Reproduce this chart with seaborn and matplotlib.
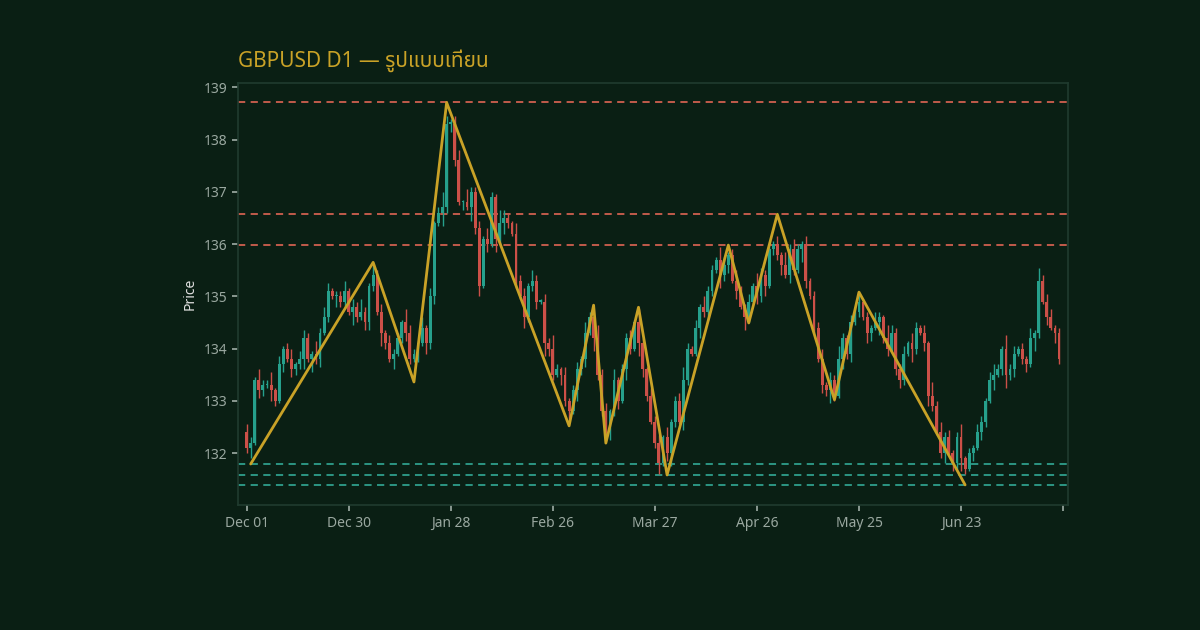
import numpy as np
import pandas as pd
import matplotlib
matplotlib.use("Agg")
import matplotlib.pyplot as plt
import seaborn as sns

# ราคาปิดรายวัน (อ่านจากภาพ)
closes = [
    132.1, 132.2, 133.4, 133.2, 133.3, 133.3, 133.2, 133.0, 133.7, 134.0,
    133.8, 133.6, 133.7, 133.8, 134.2, 133.8, 133.9, 133.8, 134.3, 134.6,
    135.1, 135.0, 135.0, 134.9, 135.1, 134.7, 134.8, 134.6, 134.7, 134.5,
    135.2, 135.4, 134.7, 134.3, 134.1, 133.8, 133.9, 134.2, 134.5, 134.3,
    133.8, 133.9, 134.1, 134.4, 134.1, 135.0, 136.4, 136.6, 136.7, 138.3,
    138.3, 137.6, 136.8, 136.8, 136.7, 137.0, 136.3, 135.2, 136.1, 136.0,
    136.9, 136.1, 136.4, 136.5, 136.4, 136.2, 135.3, 135.0, 134.6, 135.2,
    135.3, 134.9, 134.9, 134.1, 134.0, 133.5, 133.6, 133.5, 133.0, 132.8,
    133.2, 133.6, 133.8, 134.3, 134.6, 134.2, 133.5, 132.8, 132.4, 132.8,
    133.4, 133.0, 133.6, 134.2, 134.0, 134.5, 134.1, 133.6, 133.1, 132.6,
    132.2, 131.8, 132.3, 132.0, 132.6, 133.0, 132.6, 133.4, 134.0, 133.9,
    134.4, 134.8, 134.7, 135.1, 135.5, 135.7, 135.4, 135.6, 135.8, 135.3,
    135.1, 134.8, 134.6, 134.9, 135.2, 135.0, 135.4, 135.2, 135.9, 136.0,
    135.8, 135.6, 135.4, 135.9, 135.5, 135.9, 136.0, 135.3, 135.0, 134.4,
    133.8, 133.3, 133.2, 133.4, 133.1, 133.8, 134.2, 133.9, 134.5, 134.7,
    134.9, 134.6, 134.3, 134.4, 134.5, 134.6, 134.2, 134.0, 134.3, 133.6,
    133.4, 133.9, 134.1, 134.0, 134.4, 134.3, 134.1, 133.1, 132.9, 132.4,
    132.0, 132.3, 132.0, 131.8, 132.3, 131.9, 131.7, 132.0, 132.1, 132.4,
    132.6, 133.0, 133.4, 133.5, 133.6, 134.0, 133.5, 133.6, 133.9, 134.0,
    133.8, 133.7, 134.2, 134.3, 135.3, 134.9, 134.6, 134.4, 134.3, 133.8,
]
first_open = 132.4
# ไส้เทียน (หน่วย 0.05)
wick_up = ("3214225131" "2413321524" "3122413252" "1423132215" "3214131263"
           "2341522314" "2153214231" "4213252131" "2314215231" "4122315213"
           "2314123521" "3142215312" "4213153221" "3152421312" "2413252132"
           "3121421532" "2314213152" "4231251213" "2134215231" "2141523312")
wick_dn = ("2413214213" "1322415231" "2142315213" "3215214123" "2131423152"
           "3213152413" "1524213142" "2315321423" "1423152213" "2314215321"
           "2413521321" "1423215231" "3152132412" "2413215312" "1325214231"
           "2143152312" "3215213421" "2413252131" "3214125231" "2315213142")

# จุดกลับตัว (zigzag)
piv_idx = [1, 31, 41, 49, 79, 85, 88, 96, 103, 118, 123, 130, 144, 150, 176]
piv_px = [131.79, 135.65, 133.36, 138.71, 132.52, 134.83, 132.19, 134.79,
          131.58, 135.98, 134.49, 136.57, 133.02, 135.08, 131.39]
res_levels = [138.71, 136.57, 135.98]
sup_levels = [131.79, 131.58, 131.39]

tick_pos = [0, 25, 50, 75, 100, 125, 150, 175, 200]
tick_lab = ["Dec 01", "Dec 30", "Jan 28", "Feb 26", "Mar 27", "Apr 26", "May 25", "Jun 23", ""]

bg = "#0a1f14"
up_c = "#26a08c"
dn_c = "#cc5048"
gold = "#c9a227"

sns.set_theme(style="dark")
plt.rcParams['font.family'] = ['Noto Sans Thai', 'Loma', 'Garuda', 'Kinnari', 'DejaVu Sans']

opens = [first_open] + closes[:-1]
df = pd.DataFrame({"i": range(len(closes)), "open": opens, "close": closes})
df["high"] = df[["open", "close"]].max(axis=1) + np.array([int(c) for c in wick_up]) * 0.05
df["low"] = df[["open", "close"]].min(axis=1) - np.array([int(c) for c in wick_dn]) * 0.05
df["up"] = df["close"] >= df["open"]

fig = plt.figure(figsize=(12, 6.3), dpi=100, facecolor=bg)
ax = fig.add_axes([0.198, 0.198, 0.692, 0.67])
ax.set_facecolor(bg)

for lv in res_levels:
    ax.axhline(lv, color="#d0604f", ls=(0, (4, 3)), lw=1.3, zorder=1)
for lv in sup_levels:
    ax.axhline(lv, color="#2f9f8c", ls=(0, (4, 3)), lw=1.3, zorder=1)

cols = np.where(df["up"], up_c, dn_c)
ax.vlines(df["i"], df["low"], df["high"], colors=cols, lw=1, zorder=2)
body_h = (df["close"] - df["open"]).abs().clip(lower=0.03)
body_b = df[["open", "close"]].min(axis=1)
ax.bar(df["i"], body_h, bottom=body_b, width=0.7, color=cols, zorder=3, linewidth=0)

zz = pd.DataFrame({"i": piv_idx, "p": piv_px})
sns.lineplot(data=zz, x="i", y="p", ax=ax, color=gold, lw=2, zorder=4, sort=False)

ax.set_xlim(-2.2, 201.2)
ax.set_ylim(131.0, 139.08)
ax.set_yticks(range(132, 140))
ax.set_xticks(tick_pos)
ax.set_xticklabels(tick_lab)
ax.tick_params(colors="#9aa8a0", labelsize=10, length=4, left=True, bottom=True)
ax.set_xlabel("")
ax.set_ylabel("Price", color="#e0e0e0", fontsize=10)
ax.grid(False)
for s in ax.spines.values():
    s.set_color("#1f3a2e")
ax.set_title("GBPUSD D1 — รูปแบบเทียน", loc="left", color=gold, fontsize=15,
             fontweight="bold", pad=12, x=-0.0)

fig.savefig("out.png", dpi=100, facecolor=bg)
